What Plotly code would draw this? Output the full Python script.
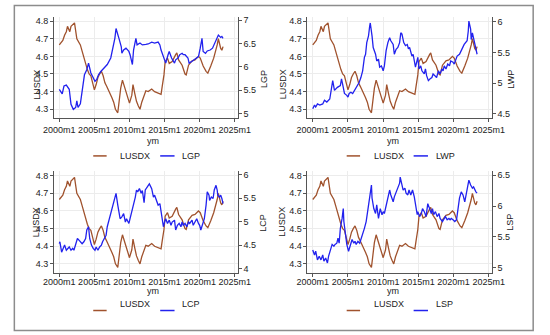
import plotly.graph_objects as go

W, H = 550, 335

# ---------------- data (months since 2000m1, values) ----------------
lusdx_m = [0, 3, 6, 9, 12, 14, 18, 20, 24, 26, 30, 33, 36, 39, 42, 45, 48, 51, 54, 57,
           60, 63, 66, 69, 72, 75, 78, 81, 84, 87, 90, 93, 96, 100, 102, 105, 108, 111, 114, 117,
           120, 124, 126, 129, 132, 135, 138, 141, 144, 148, 152, 158, 163, 169, 174, 176, 179, 181, 185, 188,
           193, 199, 201, 204, 210, 215, 217, 221, 227, 232, 238, 241, 246, 251, 254, 259, 264, 270, 272, 276,
           278, 280]
lusdx = [4.665, 4.68, 4.69, 4.72, 4.74, 4.77, 4.74, 4.77, 4.78, 4.79, 4.70, 4.68, 4.665, 4.63, 4.59, 4.55, 4.525, 4.50, 4.49, 4.45,
         4.41, 4.44, 4.48, 4.50, 4.515, 4.49, 4.45, 4.43, 4.41, 4.39, 4.365, 4.34, 4.30, 4.28, 4.355, 4.42, 4.465, 4.43, 4.40, 4.36,
         4.335, 4.38, 4.44, 4.39, 4.345, 4.32, 4.30, 4.34, 4.37, 4.405, 4.40, 4.415, 4.40, 4.39, 4.385, 4.43, 4.495, 4.57, 4.59, 4.56,
         4.57, 4.61, 4.62, 4.58, 4.55, 4.50, 4.495, 4.55, 4.575, 4.58, 4.60, 4.59, 4.545, 4.515, 4.505, 4.545, 4.59, 4.665, 4.70, 4.645,
         4.635, 4.655]

lgp_m = [0, 2, 5, 8, 12, 17, 20, 24, 28, 30, 32, 36, 38, 41, 43, 47, 50, 54, 58, 61,
         64, 67, 71, 77, 82, 88, 91, 95, 97, 100, 102, 106, 107, 110, 114, 119, 121, 125, 127, 131,
         133, 138, 142, 148, 152, 158, 163, 169, 172, 174, 178, 180, 182, 186, 188, 192, 197, 199, 203, 206,
         210, 212, 215, 220, 222, 227, 230, 234, 238, 241, 244, 246, 250, 253, 258, 262, 266, 270, 272, 276,
         278, 280]
lgp = [5.52, 5.48, 5.42, 5.59, 5.61, 5.52, 5.20, 5.09, 5.13, 5.27, 5.13, 5.21, 5.41, 5.66, 5.83, 5.94, 6.08, 5.87, 5.76, 5.69,
       5.73, 5.83, 5.90, 5.98, 6.05, 6.19, 6.36, 6.61, 6.82, 6.72, 6.61, 6.43, 6.29, 6.36, 6.40, 6.33, 6.26, 6.05, 6.36, 6.61,
       6.47, 6.51, 6.47, 6.48, 6.49, 6.53, 6.51, 6.53, 6.47, 6.36, 6.22, 6.12, 6.08, 6.26, 6.33, 6.19, 6.08, 6.15, 6.19, 6.26,
       6.29, 6.26, 6.26, 6.19, 6.08, 6.12, 6.15, 6.19, 6.22, 6.40, 6.61, 6.33, 6.29, 6.34, 6.36, 6.40, 6.51, 6.65, 6.68, 6.63,
       6.65, 6.61]

lwp_m = [0, 3, 5, 8, 12, 17, 20, 24, 29, 31, 34, 37, 40, 42, 47, 49, 52, 54, 58, 60,
         62, 65, 68, 71, 73, 77, 79, 82, 85, 88, 90, 92, 95, 97, 98, 101, 103, 107, 109, 112,
         114, 117, 120, 122, 125, 128, 131, 133, 137, 139, 142, 145, 148, 150, 152, 155, 158, 161, 163, 165,
         167, 169, 171, 173, 175, 179, 181, 184, 186, 190, 192, 194, 197, 200, 203, 205, 209, 211, 214, 217,
         220, 222, 224, 227, 230, 233, 235, 239, 241, 244, 246, 250, 252, 254, 258, 260, 263, 265, 266, 269,
         270, 272, 274, 276, 278, 280]
lwp = [4.58, 4.64, 4.61, 4.66, 4.64, 4.66, 4.72, 4.69, 4.74, 4.85, 5.04, 4.88, 4.91, 4.93, 4.96, 5.07, 4.93, 4.83, 4.80, 4.77,
       4.83, 4.85, 4.83, 4.88, 4.91, 4.99, 5.01, 5.09, 5.20, 5.42, 5.47, 5.66, 5.77, 5.93, 5.98, 5.77, 5.58, 5.47, 5.36, 5.39,
       5.26, 5.28, 5.20, 5.28, 5.53, 5.66, 5.74, 5.69, 5.63, 5.47, 5.55, 5.58, 5.66, 5.82, 5.80, 5.66, 5.61, 5.63, 5.56, 5.58,
       5.50, 5.44, 5.47, 5.36, 5.26, 5.42, 5.23, 5.28, 5.20, 5.15, 5.23, 5.12, 5.04, 5.07, 5.09, 5.15, 5.12, 5.09, 5.20, 5.15,
       5.23, 5.20, 5.28, 5.23, 5.31, 5.28, 5.36, 5.34, 5.31, 5.39, 5.44, 5.47, 5.50, 5.55, 5.63, 5.66, 5.69, 5.85, 6.01, 5.88,
       5.71, 5.82, 5.74, 5.63, 5.55, 5.47]

lcp_m = [0, 1, 4, 7, 9, 12, 14, 17, 20, 23, 25, 28, 31, 34, 37, 39, 42, 45, 47, 50,
         52, 55, 58, 61, 63, 66, 69, 72, 74, 77, 80, 82, 85, 88, 90, 92, 95, 97, 100, 102,
         104, 107, 110, 113, 115, 119, 121, 124, 127, 130, 132, 134, 137, 140, 142, 145, 147, 151, 154, 158,
         161, 163, 167, 169, 172, 174, 178, 180, 182, 185, 188, 191, 193, 197, 199, 202, 205, 208, 210, 212,
         215, 218, 221, 223, 227, 229, 232, 235, 238, 240, 242, 245, 248, 251, 253, 256, 257, 260, 263, 265,
         268, 270, 271, 274, 276, 278, 280]
lcp = [4.53, 4.57, 4.35, 4.43, 4.50, 4.39, 4.43, 4.46, 4.39, 4.43, 4.39, 4.53, 4.64, 4.60, 4.57, 4.53, 4.57, 4.64, 4.82, 4.89,
       4.64, 4.50, 4.43, 4.39, 4.46, 4.39, 4.46, 4.50, 4.57, 4.64, 4.71, 4.89, 5.03, 5.13, 5.24, 5.35, 5.49, 5.60, 5.35, 5.17,
       5.06, 5.10, 5.17, 4.99, 5.06, 4.96, 5.06, 5.17, 5.35, 5.52, 5.67, 5.63, 5.70, 5.60, 5.66, 5.40, 5.67, 5.76, 5.80, 5.70,
       5.52, 5.56, 5.42, 5.35, 5.38, 5.21, 4.89, 4.99, 5.06, 4.96, 5.03, 4.92, 4.99, 5.03, 4.82, 4.92, 4.96, 4.89, 4.99, 4.92,
       4.96, 4.89, 4.99, 4.96, 5.03, 4.92, 4.99, 5.06, 4.96, 4.92, 4.82, 4.92, 5.06, 5.35, 5.63, 5.56, 5.45, 5.52, 5.49, 5.67,
       5.77, 5.67, 5.56, 5.52, 5.56, 5.49, 5.38]

lsp_m = [0, 3, 5, 8, 11, 14, 17, 19, 22, 25, 27, 30, 33, 36, 38, 41, 43, 45, 47, 50,
         52, 53, 55, 58, 61, 64, 67, 70, 72, 74, 77, 80, 83, 85, 88, 91, 94, 97, 100, 101,
         104, 107, 109, 112, 115, 118, 120, 122, 125, 128, 131, 133, 137, 139, 142, 145, 148, 149, 152, 154,
         157, 159, 162, 164, 167, 170, 173, 175, 178, 179, 182, 185, 187, 190, 193, 196, 199, 202, 204, 206,
         209, 212, 215, 217, 221, 223, 226, 229, 232, 234, 236, 239, 242, 245, 248, 250, 253, 256, 259, 262,
         264, 266, 269, 272, 274, 276, 278, 280]
lsp = [5.29, 5.21, 5.27, 5.13, 5.19, 5.13, 5.21, 5.11, 5.16, 5.08, 5.19, 5.29, 5.38, 5.35, 5.38, 5.40, 5.48, 5.40, 5.64, 5.80,
       5.96, 5.75, 5.59, 5.38, 5.27, 5.35, 5.46, 5.40, 5.43, 5.38, 5.43, 5.40, 5.48, 5.56, 5.64, 5.75, 5.96, 6.18, 6.34, 6.13,
       5.96, 5.88, 6.02, 5.80, 5.96, 5.86, 5.91, 5.88, 6.02, 6.18, 6.26, 6.18, 6.07, 6.15, 6.23, 6.31, 6.37, 6.47, 6.34, 6.26,
       6.29, 6.21, 6.18, 6.26, 6.18, 6.26, 6.15, 6.02, 5.86, 5.91, 5.83, 5.88, 5.96, 5.91, 5.83, 6.04, 5.94, 5.88, 5.96, 5.86,
       5.91, 5.83, 5.88, 5.80, 5.75, 5.78, 5.83, 5.78, 5.80, 5.78, 5.80, 5.78, 5.75, 5.78, 5.96, 6.13, 6.23, 6.18, 6.07, 6.21,
       6.34, 6.42, 6.34, 6.29, 6.31, 6.26, 6.23, 6.21]

x_ticks = [480, 540, 600, 660, 720, 780]
x_ticktext = ["2000m1", "2005m1", "2010m1", "2015m1", "2020m1", "2025m1"]
left_ticks = [4.3, 4.4, 4.5, 4.6, 4.7, 4.8]

panels = [
    dict(name="LGP", m=lgp_m, v=lgp, ticks=[5, 5.5, 6, 6.5, 7], rng=[4.90, 7.07]),
    dict(name="LWP", m=lwp_m, v=lwp, ticks=[4.5, 5, 5.5, 6], rng=[4.426, 6.08]),
    dict(name="LCP", m=lcp_m, v=lcp, ticks=[4, 4.5, 5, 5.5, 6], rng=[3.91, 6.064]),
    dict(name="LSP", m=lsp_m, v=lsp, ticks=[5, 5.5, 6, 6.5], rng=[4.92, 6.56]),
]

# ---------------- layout geometry (pixels) ----------------
col_x = [(45, 237), (310, 502.7)]
row_y = [(15, 117.3), (171, 273.3)]
ym_gap = [22.5, 24.5]
lab_shift = [0, -3]

BROWN = "#a0522d"
BLUE = "#2222ee"
AX = "#555555"
GRID = "#ececec"
FONT = "Liberation Sans, Arial, sans-serif"
TXT = "#222222"
FS = 9

def px(x):
    return x / W

def py(y):
    return 1 - y / H

fig = go.Figure()
layout = dict(
    width=W, height=H, margin=dict(l=0, r=0, t=0, b=0),
    paper_bgcolor="white", plot_bgcolor="white", showlegend=False,
    font=dict(family=FONT, size=FS, color=TXT),
)
annotations = []
shapes = []

lus_x = [480 + m for m in lusdx_m]

for i, p in enumerate(panels):
    r, c = divmod(i, 2)
    xs = "" if i == 0 else str(i + 1)
    yl = "" if i == 0 else str(2 * i + 1)
    yr = str(2 * i + 2)
    x0, x1 = col_x[c]
    ytop, ybot = row_y[r]
    layout["xaxis" + xs] = dict(
        domain=[px(x0), px(x1)], range=[471, 785], anchor="y" + yl,
        tickvals=x_ticks, ticktext=x_ticktext, ticks="outside", ticklen=3,
        ticklabelstandoff=lab_shift[r],
        tickcolor=AX, showline=True, linecolor=AX, linewidth=1,
        showgrid=True, gridcolor=GRID, zeroline=False,
        tickfont=dict(family=FONT, size=FS, color=TXT),
    )
    layout["yaxis" + yl] = dict(
        domain=[py(ybot), py(ytop)], range=[4.249, 4.824], anchor="x" + xs,
        tickvals=left_ticks, ticks="outside", ticklen=3, tickcolor=AX,
        showline=True, linecolor=AX, linewidth=1,
        showgrid=True, gridcolor=GRID, zeroline=False,
        tickfont=dict(family=FONT, size=FS, color=TXT),
    )
    layout["yaxis" + yr] = dict(
        domain=[py(ybot), py(ytop)], range=p["rng"], anchor="x" + xs,
        overlaying="y" + yl, side="right",
        tickvals=p["ticks"], ticks="outside", ticklen=3, tickcolor=AX,
        showline=True, linecolor=AX, linewidth=1,
        showgrid=False, zeroline=False,
        tickfont=dict(family=FONT, size=FS, color=TXT),
    )
    fig.add_trace(go.Scatter(x=lus_x, y=lusdx, mode="lines", name="LUSDX",
                             line=dict(color=BROWN, width=1.3),
                             xaxis="x" + xs, yaxis="y" + yl))
    fig.add_trace(go.Scatter(x=[480 + m for m in p["m"]], y=p["v"], mode="lines",
                             name=p["name"], line=dict(color=BLUE, width=1.3),
                             xaxis="x" + xs, yaxis="y" + yr))

    # axis titles
    cy = (ytop + ybot) / 2
    annotations.append(dict(x=px(x0 - 26), y=py(cy), xref="paper", yref="paper",
                            text="LUSDX", showarrow=False, textangle=-90,
                            font=dict(family=FONT, size=FS, color=TXT)))
    annotations.append(dict(x=px(x1 + 27), y=py(cy), xref="paper", yref="paper",
                            text=p["name"], showarrow=False, textangle=-90,
                            font=dict(family=FONT, size=FS, color=TXT)))
    annotations.append(dict(x=px((x0 + x1) / 2), y=py(ybot + ym_gap[r]), xref="paper", yref="paper",
                            text="ym", showarrow=False, borderpad=0,
                            font=dict(family=FONT, size=FS, color=TXT)))
    # legend
    ly = ybot + 38
    lx = x0 + 41
    shapes.append(dict(type="line", xref="paper", yref="paper",
                       x0=px(lx), x1=px(lx + 14), y0=py(ly), y1=py(ly),
                       line=dict(color=BROWN, width=1.5)))
    annotations.append(dict(x=px(lx + 26), y=py(ly), xref="paper", yref="paper",
                            xanchor="left", text="LUSDX", showarrow=False,
                            font=dict(family=FONT, size=FS, color=TXT)))
    shapes.append(dict(type="line", xref="paper", yref="paper",
                       x0=px(lx + 70), x1=px(lx + 85), y0=py(ly), y1=py(ly),
                       line=dict(color=BLUE, width=1.5)))
    annotations.append(dict(x=px(lx + 91), y=py(ly), xref="paper", yref="paper",
                            xanchor="left", text=p["name"], showarrow=False,
                            font=dict(family=FONT, size=FS, color=TXT)))

# outer frame
shapes.append(dict(type="rect", xref="paper", yref="paper",
                   x0=px(3.5), x1=px(546), y0=py(331.5), y1=py(3.5),
                   line=dict(color="#8c8c8c", width=1.5)))

layout["annotations"] = annotations
layout["shapes"] = shapes
fig.update_layout(**layout)
fig.write_html("out.html", config={"displayModeBar": False},
               post_script="document.body.style.margin='0';document.body.style.padding='0';")
